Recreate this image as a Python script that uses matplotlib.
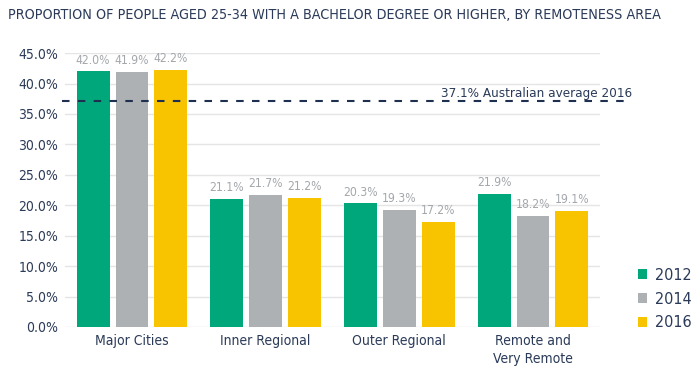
import matplotlib
matplotlib.use("Agg")
import matplotlib.pyplot as plt
import numpy as np

categories = ["Major Cities", "Inner Regional", "Outer Regional", "Remote and\nVery Remote"]
years = ["2012", "2014", "2016"]
v2012 = [42.0, 21.1, 20.3, 21.9]
v2014 = [41.9, 21.7, 19.3, 18.2]
v2016 = [42.2, 21.2, 17.2, 19.1]
average = 37.1
avg_label = "37.1% Australian average 2016"
title = "PROPORTION OF PEOPLE AGED 25-34 WITH A BACHELOR DEGREE OR HIGHER, BY REMOTENESS AREA"

colors = ["#00A77B", "#AEB1B4", "#F8C400"]
text_col = "#2A3A58"
lab_col = "#A3A7AB"
plt.rcParams["font.family"] = ["DejaVu Sans"]
plt.rcParams["font.stretch"] = "condensed"

fig = plt.figure(figsize=(7, 3.69), dpi=100)
ax = fig.add_axes([0.093, 0.114, 0.764, 0.742])

x = np.arange(len(categories)) + 0.5
w = 0.245
step = 0.29
for i, (vals, c) in enumerate(zip([v2012, v2014, v2016], colors)):
    xs = x + (i - 1) * step
    ax.bar(xs, vals, width=w, color=c, label=years[i], zorder=3)
    for xi, v in zip(xs, vals):
        ax.text(xi, v + 0.8, f"{v:.1f}%", ha="center", va="bottom", fontsize=8.7, color=lab_col)

ax.set_xlim(0, 4)
ax.set_ylim(0, 45)
ax.set_yticks(np.arange(0, 46, 5))
ax.set_yticklabels([f"{t:.1f}%" for t in np.arange(0, 46, 5)])
ax.grid(axis="y", color="#E5E5E5", linewidth=1, zorder=0)
ax.set_xticks(x)
ax.set_xticklabels(categories, linespacing=1.35)
ax.tick_params(axis="both", length=0, labelsize=10, colors=text_col, pad=5)
for s in ax.spines.values():
    s.set_visible(False)

ax.plot([-0.02, 4.24], [average, average], ls=(0, (3.6, 4.0)), color="#1E2F4F", lw=1.5,
        clip_on=False, zorder=4)
ax.text(4.24, average + 0.15, avg_label, ha="right", va="bottom", fontsize=9.6, color=text_col)

fig.text(0.011, 0.958, title, ha="left", va="center", fontsize=10.3, color=text_col)

ax.legend(loc="center left", bbox_to_anchor=(1.071, 0.102), frameon=False, fontsize=11.5,
          labelcolor=text_col, handlelength=0.6, handleheight=0.6, handletextpad=0.5,
          labelspacing=0.55, borderpad=0, borderaxespad=0)

fig.savefig("out.png", dpi=100)
